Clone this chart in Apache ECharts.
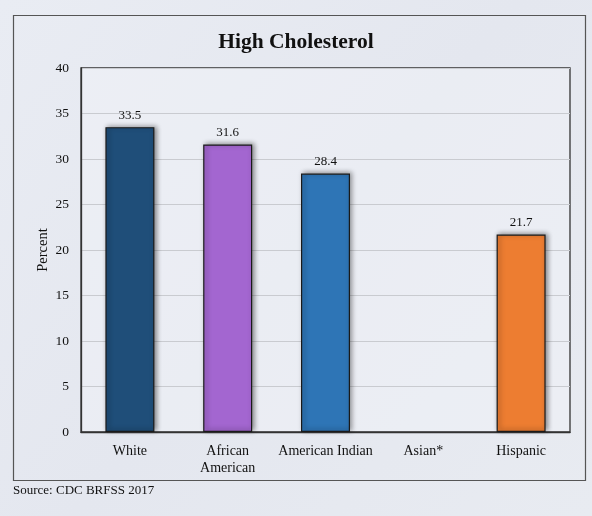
<!DOCTYPE html>
<html><head><meta charset="utf-8">
<script src="https://cdn.jsdelivr.net/npm/echarts@6/dist/echarts.min.js"></script>
<style>html,body{margin:0;padding:0;background:#e7eaf1;}#c{width:592px;height:516px;}</style>
</head><body><div id="c"></div>
<script>
var categories = ['White', 'African\nAmerican', 'American Indian', 'Asian*', 'Hispanic'];
var values = [33.5, 31.6, 28.4, null, 21.7];
var barColors = ['#1f4e79', '#a366d0', '#2e75b6', '#7f7f7f', '#ed7d31'];
var yTicks = {min: 0, max: 40, interval: 5};

var font = '"Liberation Serif", "DejaVu Serif", serif';
var chart = echarts.init(document.getElementById('c'), null, {renderer: 'canvas'});
chart.setOption({
  backgroundColor: {
    type: 'linear', x: 0, y: 0, x2: 1, y2: 1,
    colorStops: [{offset: 0, color: '#e9ecf3'}, {offset: 0.5, color: '#e4e7ef'}, {offset: 1, color: '#e8ebf1'}]
  },
  animation: false,
  title: {
    text: 'High Cholesterol', left: 'center', top: 26,
    textStyle: {fontFamily: font, fontSize: 21.5, fontWeight: 'bold', color: '#111'}
  },
  graphic: [
    {type: 'rect', shape: {x: 13.5, y: 15.5, width: 572, height: 465},
     style: {fill: 'none', stroke: '#555', lineWidth: 1.2}, z: 0},
    {type: 'text', left: 13, top: 484,
     style: {text: 'Source: CDC BRFSS 2017', font: '13px ' + font, fill: '#111'}}
  ],
  grid: {left: 81, right: 22, top: 68, bottom: 84, show: true,
         borderColor: '#333', borderWidth: 1.3, backgroundColor: 'rgba(242,244,248,0.45)'},
  xAxis: {
    type: 'category', data: categories,
    axisLine: {lineStyle: {color: '#333', width: 1.3}},
    axisTick: {show: false},
    axisLabel: {fontFamily: font, fontSize: 14, color: '#111', margin: 11, lineHeight: 17, interval: 0}
  },
  yAxis: {
    type: 'value', min: yTicks.min, max: yTicks.max, interval: yTicks.interval,
    name: 'Percent', nameLocation: 'middle', nameGap: 30, nameRotate: 90, nameMoveOverlap: false,
    nameTextStyle: {fontFamily: font, fontSize: 14.5, color: '#111'},
    axisLine: {show: true, lineStyle: {color: '#333', width: 1.3}},
    axisTick: {show: false},
    axisLabel: {fontFamily: font, fontSize: 13.5, color: '#111', margin: 12},
    splitLine: {lineStyle: {color: '#c9cbd0', width: 1}}
  },
  series: [{
    type: 'bar', barWidth: 49,
    data: values.map(function (v, i) {
      return {value: v, itemStyle: {color: barColors[i]}};
    }),
    itemStyle: {borderColor: '#1a1a1a', borderWidth: 1.2,
      shadowColor: 'rgba(0,0,0,0.45)', shadowBlur: 5, shadowOffsetX: 2, shadowOffsetY: -1},
    label: {show: true, position: 'top', distance: 5, fontFamily: font, fontSize: 13, color: '#111'}
  }]
});
</script></body></html>
